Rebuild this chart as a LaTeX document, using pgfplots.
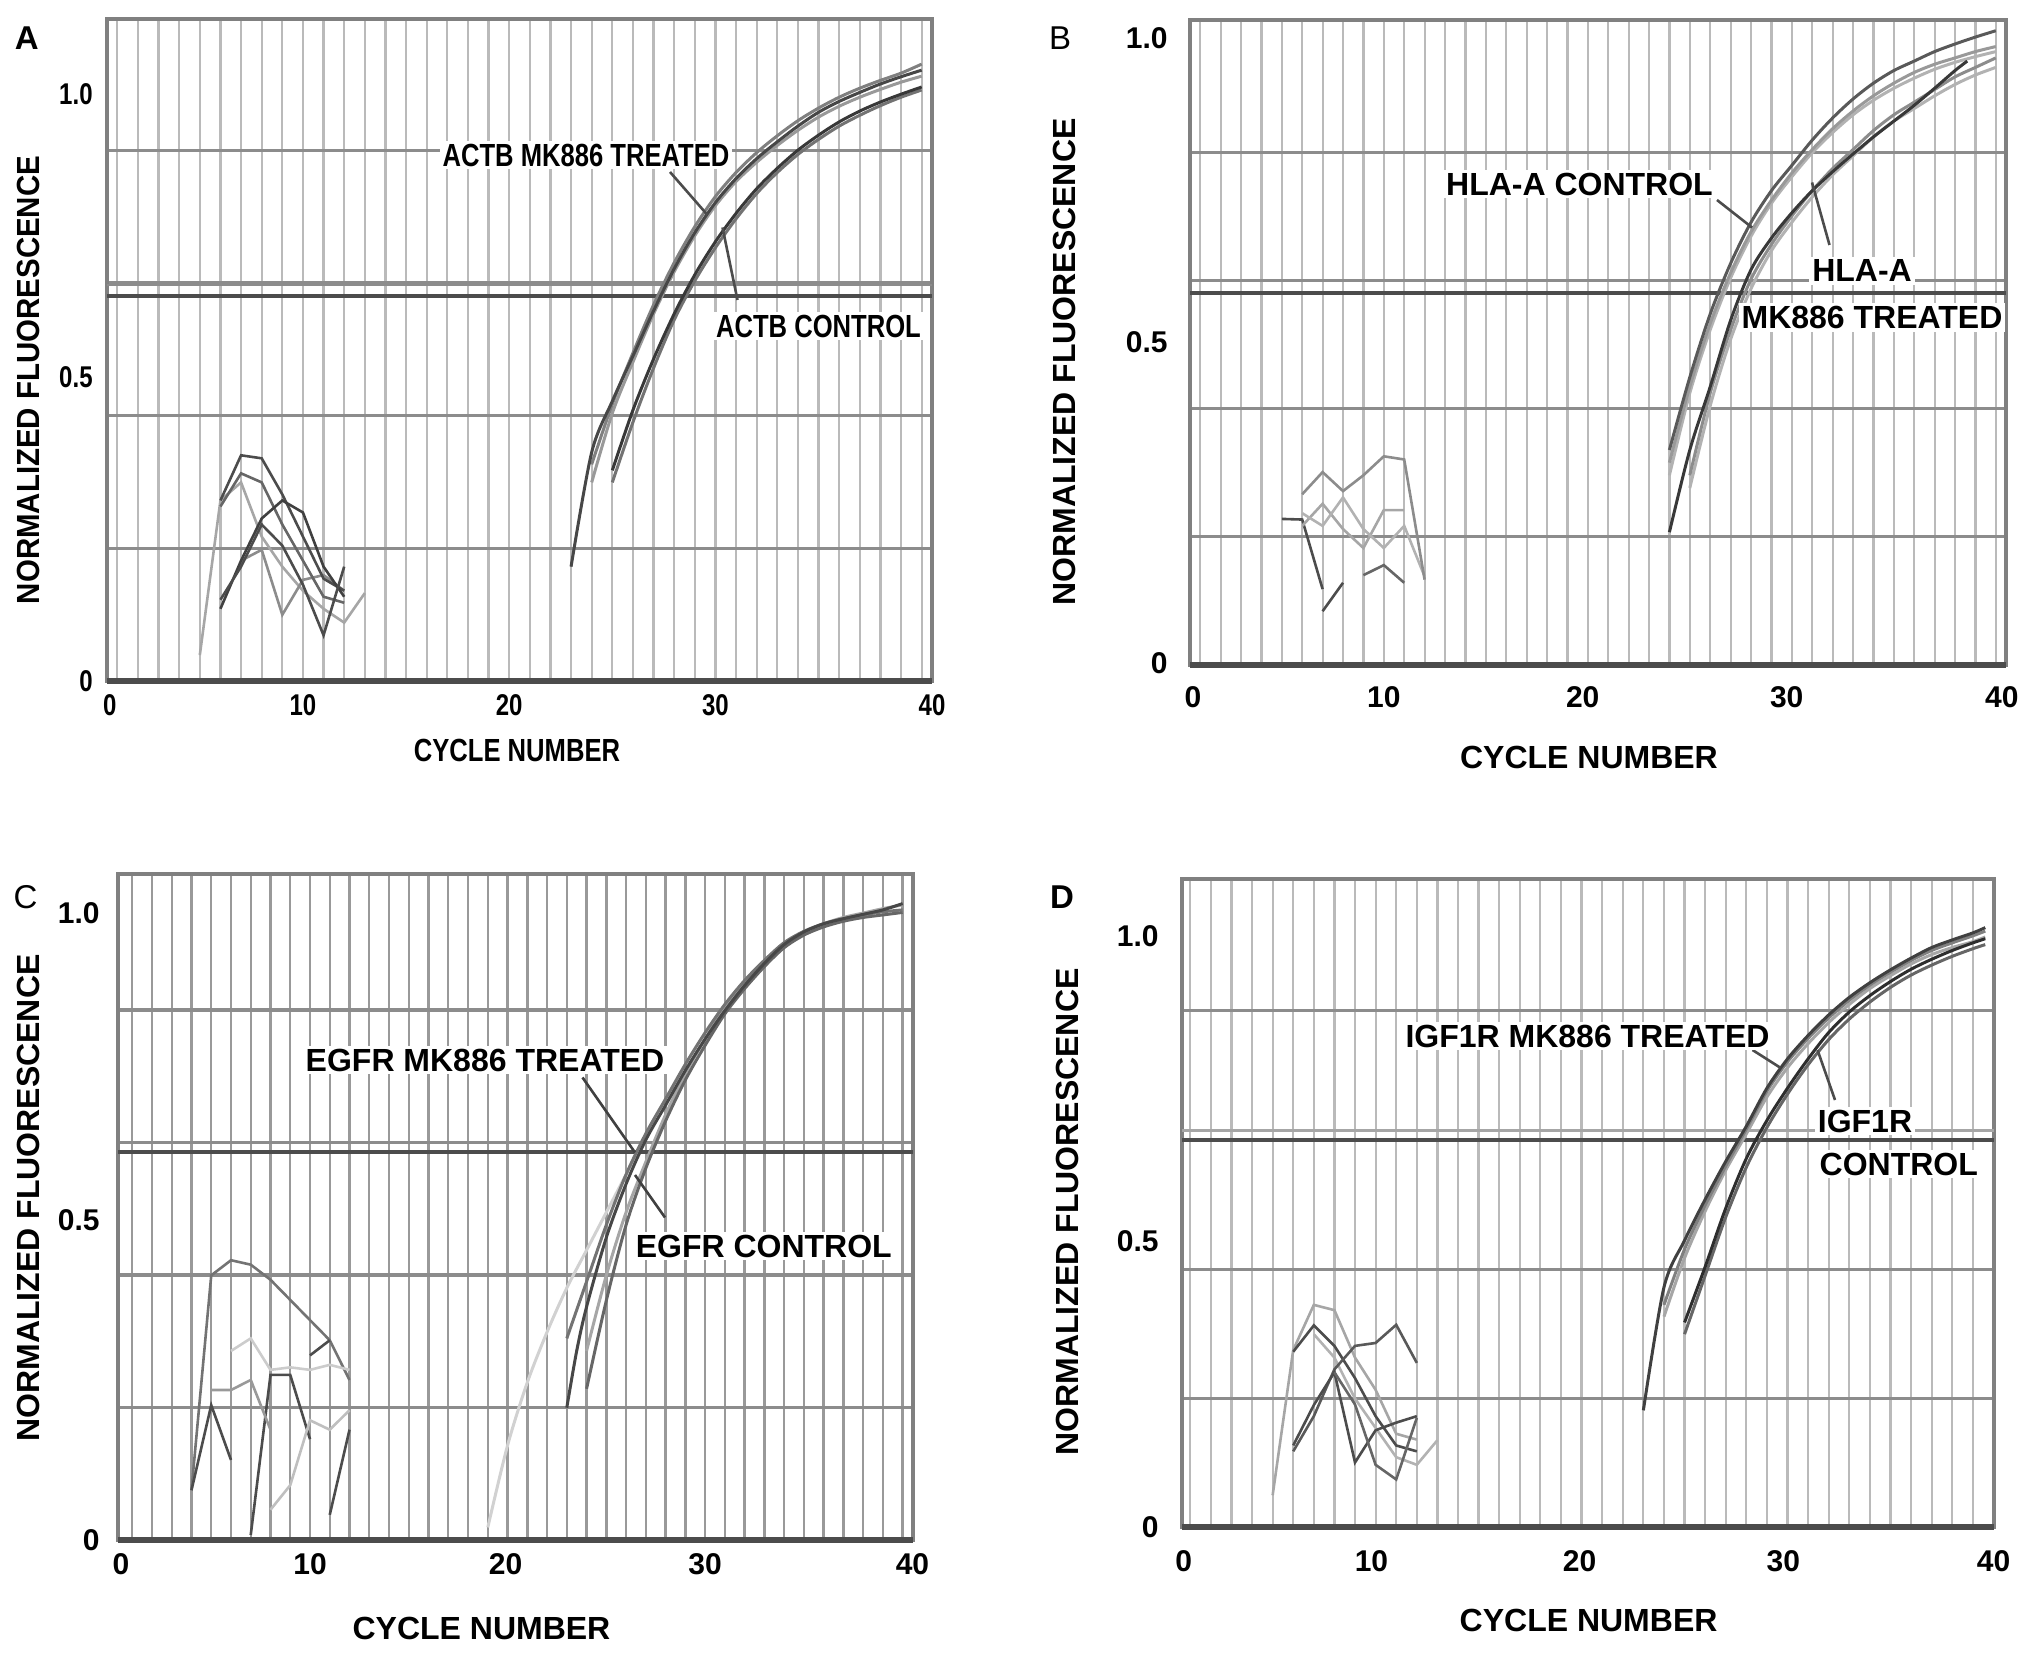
\documentclass[border=0pt]{standalone}
\usepackage{fontspec}
\setmainfont{Liberation Sans}
\newfontfamily\condf{Liberation Sans}[FakeStretch=0.8]
\newfontfamily\semif{Liberation Sans}[FakeStretch=0.92]
\usepackage{pgfplots}
\pgfplotsset{compat=1.18}
\newcommand\labf{\fontsize{16}{17}\selectfont\bfseries}
\newcommand\tickf{\fontsize{15}{15}\selectfont\bfseries}
\pgfplotsset{
  qpcr/.style={
    scale only axis, anchor=south west, ymin=0, clip=false,
    axis line style={draw=black!50, line width=2pt},
    minor xtick={1,2,...,40},
    xmajorgrids=false, ymajorgrids=false, xminorgrids=true, yminorgrids=true,
    x grid style={draw=black!27, line width=1.1pt},
    y grid style={draw=black!45, line width=1.6pt},
    major tick length=0pt, minor tick length=0pt, tick style={draw=none},
    tick label style={font=\tickf, inner sep=0pt},
  },
  amp/.style={line width=1.5pt, smooth, tension=0.5},
  nz/.style={line width=1.3pt},
}
\begin{document}
\begin{tikzpicture}
\useasboundingbox (0,0) rectangle (1015.5pt,828pt);

% ---------------- Panel A ----------------
\begin{axis}[qpcr, at={(53.5pt,487.5pt)}, width=412.5pt, height=331pt,
  xmin=0.5, xmax=40.5, ymax=1.1,
  minor ytick={0.2205,0.441,0.6615,0.882},
  xtick={0.63,10,20,30,40.5}, xticklabels={0,10,20,30,40},
  ytick={0,0.505,0.975}, yticklabels={0,0.5,1.0},
  tick label style={font=\fontsize{15}{15}\selectfont\condf\bfseries},
  xticklabel style={yshift=-6.5pt}, yticklabel style={xshift=-7pt},
]
\addplot[black!45, line width=1.3pt] coordinates {(0.5,0.658) (40.5,0.658)};
\addplot[black!70, line width=2pt] coordinates {(0.5,0.640) (40.5,0.640)};
\addplot[black!70, line width=3pt] coordinates {(0.5,0) (40.5,0)};
% noise
\addplot[nz, black!35] coordinates {(5,0.043)(6,0.30)(7,0.33)(8,0.24)(9,0.19)(10,0.15)(11,0.12)(12,0.097)(13,0.146)};
\addplot[nz, black!45] coordinates {(7,0.20)(8,0.218)(9,0.11)(10,0.168)(11,0.176)(12,0.15)};
\addplot[nz, black!60] coordinates {(6,0.29)(7,0.345)(8,0.33)(9,0.26)(10,0.20)(11,0.14)(12,0.13)};
\addplot[nz, black!70] coordinates {(6,0.30)(7,0.375)(8,0.37)(9,0.31)(10,0.24)(11,0.17)(12,0.15)};
\addplot[nz, black!75] coordinates {(6,0.12)(7,0.2)(8,0.27)(9,0.30)(10,0.28)(11,0.19)(12,0.14)};
\addplot[nz, black!70] coordinates {(6,0.135)(7,0.19)(8,0.26)(9,0.225)(10,0.16)(11,0.076)(12,0.19)};
% amplification
\addplot[amp, black!40] coordinates {(24,0.33)(25,0.445)(26,0.53)(27,0.61)(28,0.68)(29,0.74)(30,0.79)(31,0.83)(32,0.862)(33,0.89)(34,0.915)(35,0.937)(36,0.955)(37,0.97)(38,0.983)(39,0.995)(40,1.005)};
\addplot[amp, black!50] coordinates {(24,0.36)(25,0.46)(26,0.545)(27,0.625)(28,0.695)(29,0.755)(30,0.805)(31,0.845)(32,0.878)(33,0.906)(34,0.931)(35,0.952)(36,0.97)(37,0.985)(38,0.998)(39,1.01)(40,1.025)};
\addplot[amp, black!72] coordinates {(23,0.19)(24,0.38)(25,0.465)(26,0.54)(27,0.615)(28,0.685)(29,0.745)(30,0.795)(31,0.835)(32,0.868)(33,0.896)(34,0.922)(35,0.945)(36,0.963)(37,0.978)(38,0.992)(39,1.004)(40,1.015)};
\addplot[amp, black!55] coordinates {(25,0.33)(26,0.43)(27,0.52)(28,0.60)(29,0.665)(30,0.72)(31,0.768)(32,0.81)(33,0.845)(34,0.875)(35,0.9)(36,0.922)(37,0.94)(38,0.956)(39,0.97)(40,0.982)};
\addplot[amp, black!78] coordinates {(25,0.35)(26,0.45)(27,0.535)(28,0.61)(29,0.675)(30,0.73)(31,0.777)(32,0.818)(33,0.852)(34,0.882)(35,0.907)(36,0.929)(37,0.947)(38,0.962)(39,0.975)(40,0.987)};
\end{axis}

% ---------------- Panel B ----------------
\begin{axis}[qpcr, at={(595pt,495.5pt)}, width=408pt, height=322.5pt,
  xmin=0.5, xmax=40.5, ymax=1.02,
  minor ytick={0.2027,0.4054,0.6081,0.8108},
  xtick={0.64,10,19.75,29.75,40.3}, xticklabels={0,10,20,30,40},
  ytick={0.003,0.511,0.992}, yticklabels={0,0.5,1.0},
  xticklabel style={yshift=-10.5pt}, yticklabel style={xshift=-11pt},
]
\addplot[black!70, line width=2pt] coordinates {(0.5,0.589) (40.5,0.589)};
\addplot[black!70, line width=3pt] coordinates {(0.5,0) (40.5,0)};
\addplot[nz, black!70] coordinates {(5,0.231)(6,0.23)(7,0.12)};
\addplot[nz, black!70] coordinates {(7,0.085)(8,0.13)};
\addplot[nz, black!60] coordinates {(9,0.142)(10,0.158)(11,0.13)};
\addplot[nz, black!35] coordinates {(6,0.22)(7,0.255)(8,0.215)(9,0.185)(10,0.245)(11,0.245)};
\addplot[nz, black!30] coordinates {(6,0.24)(7,0.22)(8,0.265)(9,0.215)(10,0.185)(11,0.22)(12,0.14)};
\addplot[nz, black!45] coordinates {(6,0.27)(7,0.305)(8,0.275)(9,0.30)(10,0.33)(11,0.325)(12,0.135)};
\addplot[amp, black!30] coordinates {(24,0.30)(25,0.43)(26,0.53)(27,0.612)(28,0.678)(29,0.73)(30,0.772)(31,0.81)(32,0.842)(33,0.87)(34,0.893)(35,0.912)(36,0.928)(37,0.942)(38,0.953)(39,0.962)(40,0.97)};
\addplot[amp, black!40] coordinates {(24,0.32)(25,0.44)(26,0.54)(27,0.62)(28,0.685)(29,0.735)(30,0.778)(31,0.815)(32,0.848)(33,0.876)(34,0.9)(35,0.92)(36,0.937)(37,0.95)(38,0.96)(39,0.97)(40,0.978)};
\addplot[amp, black!65] coordinates {(24,0.34)(25,0.455)(26,0.555)(27,0.635)(28,0.70)(29,0.75)(30,0.79)(31,0.83)(32,0.865)(33,0.895)(34,0.92)(35,0.94)(36,0.955)(37,0.97)(38,0.982)(39,0.993)(40,1.003)};
\addplot[amp, black!30] coordinates {(25,0.28)(26,0.41)(27,0.515)(28,0.595)(29,0.655)(30,0.70)(31,0.74)(32,0.775)(33,0.805)(34,0.835)(35,0.86)(36,0.88)(37,0.9)(38,0.918)(39,0.933)(40,0.945)};
\addplot[amp, black!45] coordinates {(25,0.30)(26,0.43)(27,0.53)(28,0.61)(29,0.665)(30,0.71)(31,0.75)(32,0.785)(33,0.815)(34,0.845)(35,0.87)(36,0.89)(37,0.91)(38,0.93)(39,0.945)(40,0.96)};
\addplot[amp, black!78] coordinates {(24,0.21)(25,0.34)(26,0.44)(27,0.545)(28,0.625)(29,0.675)(30,0.715)(31,0.75)(32,0.78)(33,0.808)(34,0.835)(35,0.86)(36,0.885)(37,0.912)(38,0.94)(38.6,0.955)};
\end{axis}

% ---------------- Panel C ----------------
\begin{axis}[qpcr, at={(59pt,58pt)}, width=397.25pt, height=333pt,
  xmin=0.28, xmax=40.5, ymax=1.057,
  x grid style={draw=black!40, line width=1.2pt},
  minor ytick={0.2103,0.4206,0.6309,0.8412},
  xtick={0.43,10,19.9,30,40.5}, xticklabels={0,10,20,30,40},
  ytick={0,0.508,0.995}, yticklabels={0,0.5,1.0},
  xticklabel style={yshift=-6.5pt}, yticklabel style={xshift=-9pt},
]
\addplot[black!70, line width=2pt] coordinates {(0.28,0.615) (40.5,0.615)};
\addplot[black!70, line width=3pt] coordinates {(0.28,0) (40.5,0)};
\addplot[nz, black!55] coordinates {(4,0.079)(5,0.42)(6,0.444)(7,0.437)(8,0.413)(9,0.381)(10,0.349)(11,0.317)(12,0.254)};
\addplot[nz, black!70] coordinates {(4,0.079)(5,0.214)(6,0.127)};
\addplot[nz, black!70] coordinates {(7,0.008)(8,0.262)(9,0.262)(10,0.16)};
\addplot[nz, black!70] coordinates {(10,0.293)(11,0.317)};
\addplot[nz, black!70] coordinates {(11,0.04)(12,0.175)};
\addplot[nz, black!40] coordinates {(5,0.238)(6,0.238)(7,0.254)(8,0.175)};
\addplot[nz, black!20] coordinates {(6,0.30)(7,0.32)(8,0.27)(9,0.274)(10,0.27)(11,0.278)(12,0.27)};
\addplot[nz, black!25] coordinates {(8,0.048)(9,0.087)(10,0.19)(11,0.175)(12,0.206)};
\addplot[amp, black!18] coordinates {(19,0.02)(20,0.15)(21,0.25)(22,0.33)(23,0.40)(24,0.46)(25,0.52)(26,0.58)(27,0.64)};
\addplot[amp, black!35] coordinates {(24,0.30)(25,0.42)(26,0.52)(27,0.60)(28,0.675)(29,0.74)(30,0.795)(31,0.845)(32,0.885)(33,0.918)(34,0.945)(35,0.965)(36,0.978)(37,0.988)(38,0.995)(39,1.002)(40,1.008)};
\addplot[amp, black!60] coordinates {(24,0.24)(25,0.38)(26,0.50)(27,0.59)(28,0.665)(29,0.73)(30,0.785)(31,0.835)(32,0.875)(33,0.91)(34,0.94)(35,0.96)(36,0.973)(37,0.982)(38,0.988)(39,0.992)(40,0.996)};
\addplot[amp, black!55] coordinates {(23,0.32)(24,0.41)(25,0.50)(26,0.58)(27,0.645)(28,0.70)(29,0.755)(30,0.805)(31,0.85)(32,0.888)(33,0.92)(34,0.948)(35,0.966)(36,0.978)(37,0.986)(38,0.992)(39,0.997)(40,1.0)};
\addplot[amp, black!72] coordinates {(23,0.21)(23.5,0.30)(24,0.37)(25,0.48)(26,0.565)(27,0.635)(28,0.69)(29,0.745)(30,0.795)(31,0.84)(32,0.88)(33,0.915)(34,0.945)(35,0.965)(36,0.978)(37,0.986)(38,0.993)(39,1.0)(40,1.01)};
\end{axis}

% ---------------- Panel D ----------------
\begin{axis}[qpcr, at={(591pt,64.25pt)}, width=405.75pt, height=324.25pt,
  xmin=0.6, xmax=40, ymax=1.107,
  minor ytick={0.2205,0.441,0.6615,0.882},
  xtick={0.68,9.8,19.9,29.8,40}, xticklabels={0,10,20,30,40},
  ytick={0,0.489,1.009}, yticklabels={0,0.5,1.0},
  xticklabel style={yshift=-11.5pt}, yticklabel style={xshift=-11.5pt},
]
\addplot[black!35, line width=1.3pt] coordinates {(0.6,0.678) (40,0.678)};
\addplot[black!70, line width=2pt] coordinates {(0.6,0.662) (40,0.662)};
\addplot[black!70, line width=3pt] coordinates {(0.6,0) (40,0)};
\addplot[nz, black!35] coordinates {(5,0.055)(6,0.303)(7,0.38)(8,0.371)(9,0.29)(10,0.235)(11,0.16)(12,0.15)};
\addplot[nz, black!30] coordinates {(7,0.33)(8,0.29)(9,0.22)(10,0.17)(11,0.12)(12,0.107)(13,0.149)};
\addplot[nz, black!70] coordinates {(6,0.30)(7,0.345)(8,0.31)(9,0.255)(10,0.19)(11,0.14)(12,0.13)};
\addplot[nz, black!65] coordinates {(6,0.13)(7,0.19)(8,0.27)(9,0.31)(10,0.315)(11,0.346)(12,0.281)};
\addplot[nz, black!70] coordinates {(6,0.14)(7,0.209)(8,0.265)(9,0.111)(10,0.166)(11,0.179)(12,0.19)};
\addplot[nz, black!60] coordinates {(8,0.265)(9,0.21)(10,0.107)(11,0.082)(12,0.187)};
\addplot[amp, black!35] coordinates {(24,0.36)(25,0.46)(26,0.54)(27,0.61)(28,0.672)(29,0.735)(30,0.785)(31,0.826)(32,0.862)(33,0.893)(34,0.92)(35,0.942)(36,0.962)(37,0.978)(38,0.99)(39,1.0)(39.6,1.008)};
\addplot[amp, black!50] coordinates {(24,0.38)(25,0.475)(26,0.55)(27,0.617)(28,0.68)(29,0.745)(30,0.795)(31,0.835)(32,0.87)(33,0.9)(34,0.926)(35,0.948)(36,0.968)(37,0.985)(38,0.998)(39,1.01)(39.6,1.018)};
\addplot[amp, black!75] coordinates {(23,0.20)(24,0.41)(25,0.49)(26,0.56)(27,0.625)(28,0.685)(29,0.75)(30,0.80)(31,0.84)(32,0.875)(33,0.905)(34,0.93)(35,0.952)(36,0.972)(37,0.99)(38,1.003)(39,1.015)(39.6,1.024)};
\addplot[amp, black!60] coordinates {(25,0.33)(26,0.43)(27,0.53)(28,0.615)(29,0.683)(30,0.74)(31,0.79)(32,0.833)(33,0.868)(34,0.897)(35,0.922)(36,0.943)(37,0.96)(38,0.975)(39,0.988)(39.6,0.995)};
\addplot[amp, black!82] coordinates {(25,0.35)(26,0.445)(27,0.545)(28,0.63)(29,0.695)(30,0.75)(31,0.80)(32,0.845)(33,0.88)(34,0.908)(35,0.932)(36,0.953)(37,0.97)(38,0.985)(39,0.998)(39.6,1.005)};
\end{axis}

% ---------------- texts ----------------
\node[font=\fontsize{16.5}{16}\selectfont\bfseries] at (13.4pt,808.9pt) {A};
\node[font=\fontsize{16.5}{16}\selectfont] at (530pt,809pt) {B};
\node[font=\fontsize{16.5}{16}\selectfont] at (12.75pt,379.5pt) {C};
\node[font=\fontsize{16.5}{16}\selectfont\bfseries] at (531pt,379.5pt) {D};

\node[font=\labf\condf\bfseries] at (258.5pt,453pt) {CYCLE NUMBER};
\node[font=\labf] at (794.5pt,449.5pt) {CYCLE NUMBER};
\node[font=\labf] at (240.75pt,14pt) {CYCLE NUMBER};
\node[font=\labf] at (794.3pt,17.7pt) {CYCLE NUMBER};

\node[rotate=90, font=\labf\semif\bfseries] at (14pt,638pt) {NORMALIZED FLUORESCENCE};
\node[rotate=90, font=\labf] at (532pt,647pt) {NORMALIZED FLUORESCENCE};
\node[rotate=90, font=\labf] at (14.35pt,229pt) {NORMALIZED FLUORESCENCE};
\node[rotate=90, font=\labf] at (533.5pt,222pt) {NORMALIZED FLUORESCENCE};

% annotations A
\draw[black!70, line width=1.3pt] (335pt,742pt) -- (353.75pt,720.5pt);
\draw[black!70, line width=1.3pt] (368.75pt,678pt) -- (361.25pt,714.25pt);
\node[fill=white, inner sep=1.5pt, font=\labf\condf\bfseries] at (293pt,750.5pt) {ACTB MK886 TREATED};
\node[fill=white, inner sep=1.5pt, font=\labf\condf\bfseries] at (409.25pt,665pt) {ACTB CONTROL};
% annotations B
\draw[black!70, line width=1.3pt] (858.5pt,728pt) -- (876pt,714.25pt);
\draw[black!70, line width=1.3pt] (914.75pt,705.5pt) -- (906pt,736.75pt);
\node[fill=white, inner sep=1.5pt, font=\labf] at (789.75pt,736pt) {HLA-A CONTROL};
\node[fill=white, inner sep=1.5pt, font=\labf] at (931pt,692.5pt) {HLA-A};
\node[fill=white, inner sep=1.5pt, font=\labf] at (936pt,669.25pt) {MK886 TREATED};
% annotations C
\draw[black!75, line width=1.3pt] (291.25pt,289.25pt) -- (317.5pt,251.75pt);
\draw[black!75, line width=1.3pt] (332.5pt,219.25pt) -- (317.5pt,240.5pt);
\node[fill=white, inner sep=1.5pt, font=\labf] at (242.5pt,298pt) {EGFR MK886 TREATED};
\node[fill=white, inner sep=1.5pt, font=\labf] at (381.9pt,205pt) {EGFR CONTROL};
% annotations D
\draw[black!70, line width=1.3pt] (876.25pt,303pt) -- (890pt,294.25pt);
\draw[black!70, line width=1.3pt] (917.5pt,278pt) -- (908.75pt,303pt);
\node[fill=white, inner sep=1.5pt, font=\labf] at (793.75pt,310pt) {IGF1R MK886 TREATED};
\node[fill=white, inner sep=1.5pt, font=\labf] at (932.5pt,267.5pt) {IGF1R};
\node[fill=white, inner sep=1.5pt, font=\labf] at (949.4pt,246pt) {CONTROL};
\end{tikzpicture}
\end{document}
